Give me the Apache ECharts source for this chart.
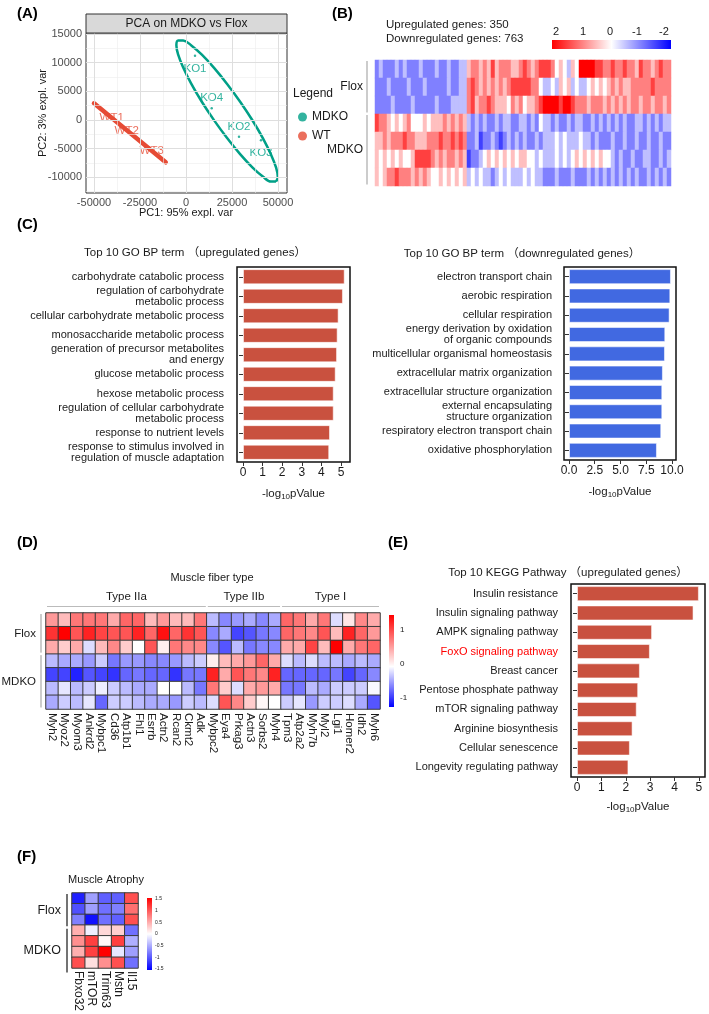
<!DOCTYPE html>
<html>
<head>
<meta charset="utf-8">
<script src="https://cdn.jsdelivr.net/npm/echarts@6/dist/echarts.min.js"></script>
<style>
  html, body { margin: 0; padding: 0; background: #fff; }
  #main { width: 709px; height: 1014px; }
</style>
</head>
<body>
<div id="main"></div>
<script>
const FONT = '"Liberation Sans", Arial, "Noto Sans CJK SC", sans-serif';

// (A) PCA
const pcaKoNames = ['KO1', 'KO4', 'KO2', 'KO3'];
const pcaKoPoints = [[4890, 11220], [13970, 2040], [28800, -2910], [40760, -3540]];
const pcaWtNames = ['WT1', 'WT2', 'WT3'];
const pcaWtPoints = [[-40380, 300], [-32230, -1870], [-18640, -5360]];
// ellipse outline
const koEllipse = [[48900, -10750], [49890, -9930], [48970, -8310], [46190, -6030], [41830, -3205],
  [36170, -90], [29520, 3150], [22330, 6290], [15250, 9090], [8610, 11390], [2890, 13010],
  [-1530, 13870], [-4250, 13880], [-5230, 13050], [-4300, 11440], [-1530, 9160], [2830, 6340],
  [8500, 3220], [15200, -20], [22330, -3150], [29410, -5960], [36060, -8260], [41780, -9880],
  [46190, -10750], [48900, -10750]];
const wtEllipse = [[-50000, 2910], [-11030, -7380]];
const pcaXTicks = [-50000, -25000, 0, 25000, 50000];
const pcaYTicks = [-10000, -5000, 0, 5000, 10000, 15000];
const pcaXMinor = [-37500, -12500, 12500, 37500];
const pcaYMinor = [-12500, -7500, -2500, 2500, 7500, 12500];

// (B) DEG heatmap, one digit per column block: value = (digit - 4) / 2
const upCount = 350, downCount = 763;
const bRowNames = ['Flox1', 'Flox2', 'Flox3', 'MDKO1', 'MDKO2', 'MDKO3', 'MDKO4'];
const bRows = [
  '23222 32322 23222 32232 233 | 56656 57566 65567 65677 76454 35488 88776 67667 66576 65676 6',
  '22232 22232 22322 22232 233 | 67656 56565 67777 76643 34354 53433 45454 56565 56666 67666 6',
  '22223 22223 22222 32223 333 | 67566 76555 46564 55678 88878 87666 56665 65656 56656 65665 6',
  '76654 54564 44545 55656 565 | 32323 22323 32233 23243 32322 32332 23232 32323 22332 32323 3',
  '55656 66766 55566 67667 676 | 22312 23212 32323 22323 33434 33343 32322 23223 22322 32232 2',
  '54545 45445 77776 56566 565 | 12234 54545 45455 44343 33434 34545 45454 43232 23223 32232 3',
  '54566 76665 65654 45454 545 | 34343 32343 43334 34332 22322 23222 32323 23232 32322 32323 2'
];
const bScaleTicks = [2, 1, 0, -1, -2];
const sampleGroups = [['Flox', 3], ['MDKO', 4]];

// (C) GO BP
const goUpTerms = ['carbohydrate catabolic process', 'regulation of carbohydrate\nmetabolic process',
  'cellular carbohydrate metabolic process', 'monosaccharide metabolic process',
  'generation of precursor metabolites\nand energy', 'glucose metabolic process', 'hexose metabolic process',
  'regulation of cellular carbohydrate\nmetabolic process', 'response to nutrient levels',
  'response to stimulus involved in\nregulation of muscle adaptation'];
const goUpValues = [5.19, 5.10, 4.88, 4.83, 4.80, 4.73, 4.63, 4.63, 4.44, 4.40];
const goDownTerms = ['electron transport chain', 'aerobic respiration', 'cellular respiration',
  'energy derivation by oxidation\nof organic compounds', 'multicellular organismal homeostasis',
  'extracellular matrix organization', 'extracellular structure organization',
  'external encapsulating\nstructure organization', 'respiratory electron transport chain',
  'oxidative phosphorylation'];
const goDownValues = [9.90, 9.84, 9.77, 9.35, 9.32, 9.12, 9.06, 9.06, 8.96, 8.54];
const goUpTicks = [0, 1, 2, 3, 4, 5];
const goDownTicks = [0, 2.5, 5, 7.5, 10];

// (D) muscle fiber type
const fiberGenes = ['Myh2', 'Myoz2', 'Myom3', 'Ankrd2', 'Mybpc1', 'Cd36', 'Atp1b1', 'Fhl1', 'Esrrb', 'Actn2',
  'Rcan2', 'Ckmt2', 'Adk', 'Mybpc2', 'Eya4', 'Prkag3', 'Actn3', 'Sorbs2', 'Myh4', 'Tpm3', 'Atp2a2',
  'Myh7b', 'Myl2', 'Lgi1', 'Homer2', 'Idh2', 'Myh6'];
const fiberGroups = ['Type IIa', 'Type IIb', 'Type I'];
const fiberGroupSizes = [13, 6, 8];
const fiberRows = [
  [0.6, 0.4, 0.8, 0.8, 0.8, 0.5, 0.9, 0.9, 0.4, 0.6, 0.4, 0.4, 0.8, -0.4, -0.7, -0.6, -0.5, -0.7, -0.5, 0.9, 0.8, 0.5, 0.8, -0.2, 0.15, 0.7, 0.5],
  [1.2, 1.5, 1.0, 1.3, 1.1, 1.0, 1.0, 1.3, 0.9, 1.4, 0.9, 1.2, 1.0, -0.7, -0.5, -1.1, -1.0, -0.8, -0.7, 0.9, 0.8, 0.7, 1.0, 0.4, 1.3, 0.9, 0.6],
  [0.5, 0.3, 0.5, -0.2, 0.4, 0.7, 0.3, 0.0, 1.0, 0.1, 0.8, 0.7, 0.7, -0.7, -1.0, -0.4, -0.8, -0.7, -0.7, 0.5, 0.5, 1.1, 0.4, 1.6, 0.5, 0.8, 0.9],
  [-0.4, -0.5, -0.5, -0.6, -0.3, -0.8, -0.6, -0.6, -0.7, -0.7, -0.6, -0.4, -0.3, 0.1, 0.4, 0.5, 0.6, 0.9, 0.5, -0.2, -0.4, -0.2, -0.4, -0.4, -0.5, -0.4, -0.5],
  [-1.1, -1.1, -1.3, -1.0, -1.1, -1.2, -0.9, -0.8, -0.9, -0.9, -1.2, -0.8, -0.8, 1.3, 0.5, 1.0, 0.8, 0.7, 1.3, -0.9, -0.9, -0.9, -0.9, -0.8, -1.1, -0.9, -0.7],
  [-0.4, -0.15, -0.4, -0.3, -0.1, -0.3, -0.4, -0.5, -0.5, 0.0, 0.0, -0.4, -0.8, 0.8, 0.3, -0.2, 0.5, 0.6, 0.5, -0.8, -0.8, -0.4, -0.5, -0.3, -0.3, -0.3, -0.05],
  [-0.5, -0.3, -0.4, -0.15, -0.9, -0.3, -0.3, -0.4, -0.5, -0.5, -0.6, -0.3, -0.4, -0.2, 1.0, 0.7, 0.3, 0.05, 0.0, -0.3, -0.15, -0.6, -0.3, -0.3, -0.2, -0.5, -1.0]
];
const fiberScaleTicks = [1, 0, -1];

// (E) KEGG
const keggTerms = ['Insulin resistance', 'Insulin signaling pathway', 'AMPK signaling pathway',
  'FoxO signaling pathway', 'Breast cancer', 'Pentose phosphate pathway', 'mTOR signaling pathway',
  'Arginine biosynthesis', 'Cellular senescence', 'Longevity regulating pathway'];
const keggValues = [5.00, 4.78, 3.08, 2.99, 2.58, 2.51, 2.45, 2.28, 2.17, 2.11];
const keggTicks = [0, 1, 2, 3, 4, 5];
const keggHighlight = 'FoxO signaling pathway';

// (F) muscle atrophy
const atrophyGenes = ['Fbxo32', 'mTOR', 'Trim63', 'Mstn', 'Il15'];
const atrophyRows = [
  [-1.4, -0.6, -1.0, -1.0, 1.1],
  [-1.1, -0.6, -0.9, -0.8, 0.9],
  [-0.8, -1.5, -0.9, -1.0, 1.1],
  [0.5, -0.1, 0.25, 0.3, -0.9],
  [0.7, 1.2, 0.05, 1.2, -0.5],
  [0.5, 1.2, 1.6, -0.15, -0.6],
  [1.1, 0.2, 0.7, 1.1, -0.9]
];
const atrophyScaleTicks = [1.5, 1, 0.5, 0, -0.5, -1, -1.5];

// ---------- helpers
const toCells = rows => {
  const out = [];
  rows.forEach((r, y) => r.forEach((v, x) => out.push([x, y, v])));
  return out;
};
const bDigits = bRows.map(s => s.replace(/[^0-8]/g, '').split(''));
const bData = [];
bDigits.forEach((r, y) => r.forEach((c, x) => bData.push([x, y, (Number(c) - 4) / 2])));
const bCols = bDigits[0].map((_, i) => String(i));

const g = [];
function text(x, y, s, o = {}) {
  g.push({
    type: 'text', x, y, rotation: o.rot || 0, silent: true, z: 50,
    style: {
      text: s, fill: o.color || '#1a1a1a', fontSize: o.size || 11, fontWeight: o.bold ? 'bold' : 'normal',
      fontFamily: FONT, align: o.align || 'center', textAlign: o.align || 'center',
      verticalAlign: 'middle', textVerticalAlign: 'middle'
    }
  });
}
function line(x1, y1, x2, y2, color, w) {
  g.push({ type: 'line', silent: true, z: 50, shape: { x1, y1, x2, y2 }, style: { stroke: color, lineWidth: w } });
}
function colorBar(x, y, w, h, vertical, stops) {
  g.push({
    type: 'rect', silent: true, z: 50, shape: { x, y, width: w, height: h },
    style: { fill: new echarts.graphic.LinearGradient(0, 0, vertical ? 0 : 1, vertical ? 1 : 0, stops) }
  });
}
function sampleBrackets(top, height, textRight, barX, size, barColor, barW) {
  const total = sampleGroups.reduce((a, s) => a + s[1], 0);
  const rh = height / total;
  let r = 0;
  sampleGroups.forEach(([name, n]) => {
    const y0 = top + r * rh, y1 = top + (r + n) * rh;
    text(textRight, (y0 + y1) / 2, name, { size, align: 'right' });
    line(barX, y0 + 1, barX, y1 - 1.5, barColor, barW);
    r += n;
  });
}
const redWhiteBlue = [{ offset: 0, color: '#ff0000' }, { offset: 0.5, color: '#ffffff' }, { offset: 1, color: '#0000ff' }];

// ---------- layout
const GA = { left: 86, top: 33, width: 201, height: 160 };
const GB = { left: 375, top: 60, width: 296, height: 126 };
const GC1 = { left: 237, top: 267, width: 113, height: 195 };
const GC2 = { left: 564, top: 267, width: 112, height: 193 };
const GD = { left: 46, top: 613, width: 334, height: 96 };
const GE = { left: 571, top: 584, width: 134, height: 193 };
const GF = { left: 72, top: 893, width: 66, height: 81 };

// panel letters
[['(A)', 17, 14], ['(B)', 332, 14], ['(C)', 17, 225], ['(D)', 17, 543], ['(E)', 388, 543], ['(F)', 17, 857]]
  .forEach(([s, x, y]) => text(x, y, s, { size: 15, bold: true, align: 'left', color: '#000' }));

// A decorations
g.push({ type: 'rect', silent: true, z: 40, shape: { x: 86, y: 14, width: 201, height: 19 },
  style: { fill: '#d9d9d9', stroke: '#333', lineWidth: 1 } });
text(186.5, 24, 'PCA on MDKO vs Flox', { size: 12 });
text(186, 213, 'PC1: 95% expl. var', { size: 11 });
text(43, 113, 'PC2: 3% expl. var', { size: 11, rot: Math.PI / 2 });
text(293, 94, 'Legend', { size: 12, align: 'left' });

// B decorations
text(386, 25, 'Upregulated genes: ' + upCount, { size: 11.5, align: 'left' });
text(386, 39, 'Downregulated genes: ' + downCount, { size: 11.5, align: 'left' });
colorBar(552, 40, 119, 9, false, redWhiteBlue);
bScaleTicks.forEach(v => text(610 - v * 27, 32, String(v), { size: 11 }));
sampleBrackets(GB.top, GB.height, 363, 367, 12, '#999', 1);

// C titles
text(195, 253, 'Top 10 GO BP term （upregulated genes）', { size: 11.5 });
text(522, 254, 'Top 10 GO BP term （downregulated genes）', { size: 11.5 });

// D decorations
text(212, 578, 'Muscle fiber type', { size: 11 });
{
  const cw = GD.width / fiberGenes.length;
  let s = 0;
  fiberGroups.forEach((name, i) => {
    const n = fiberGroupSizes[i];
    text(GD.left + (s + n / 2) * cw, 597, name, { size: 11.5 });
    line(GD.left + s * cw + 1, 606.5, GD.left + (s + n) * cw - 1, 606.5, '#bbb', 1);
    s += n;
  });
}
sampleBrackets(GD.top, GD.height, 36, 41, 11.5, '#999', 1);
colorBar(389, 615, 5, 92, true, [{ offset: 0, color: '#ff0000' }, { offset: 0.56, color: '#ffffff' }, { offset: 1, color: '#0000ff' }]);
fiberScaleTicks.forEach(v => text(400, 664 - v * 34, String(v), { size: 8, align: 'left' }));

// E title
text(568, 573, 'Top 10 KEGG Pathway （upregulated genes）', { size: 11.5 });

// F decorations
text(106, 880, 'Muscle Atrophy', { size: 11 });
sampleBrackets(GF.top, GF.height, 61, 67, 12.5, '#444', 1.5);
colorBar(147, 898, 5, 72, true, redWhiteBlue);
atrophyScaleTicks.forEach(v => text(155, 934 - v * 23.3, String(v), { size: 5, align: 'left' }));

// ---------- axes
const nameRich = {
  fontSize: 11.5, color: '#1a1a1a', fontFamily: FONT,
  rich: { s: { fontSize: 8, color: '#1a1a1a', fontFamily: FONT, padding: [7, 0, 0, 0] } }
};
function valueBarAxis(gi, min, max, ticks, fmt, gap) {
  return {
    gridIndex: gi, type: 'value', min, max,
    splitLine: { show: false }, axisLine: { show: false },
    axisTick: { show: true, length: 4, customValues: ticks, lineStyle: { color: '#333' } },
    axisLabel: { customValues: ticks, formatter: fmt, fontSize: 12, color: '#1a1a1a', margin: 5 },
    name: '-log{s|10}pValue', nameLocation: 'middle', nameGap: gap, nameTextStyle: nameRich
  };
}
function termAxis(gi, terms, margin, colorFn) {
  return {
    gridIndex: gi, type: 'category', data: terms, inverse: true,
    axisLine: { show: false },
    axisTick: { show: true, alignWithLabel: true, length: 4, lineStyle: { color: '#333' } },
    axisLabel: { interval: 0, fontSize: 11, lineHeight: 11, color: colorFn || '#1a1a1a', margin }
  };
}
function heatAxisX(gi, cats, fontSize, margin) {
  return {
    gridIndex: gi, type: 'category', data: cats, axisLine: { show: false }, axisTick: { show: false },
    splitLine: { show: false },
    axisLabel: { interval: 0, rotate: -90, fontSize, color: '#1a1a1a', margin }
  };
}
const hiddenCat = (gi, cats, inverse) => ({ gridIndex: gi, type: 'category', data: cats, inverse, show: false });

const frame = { show: true, borderColor: '#111', borderWidth: 1.5 };

const xAxis = [
  {
    gridIndex: 0, type: 'value', min: -54348, max: 54891, splitLine: { show: false }, axisLine: { show: false },
    axisTick: { customValues: pcaXTicks, length: 3, lineStyle: { color: '#333' } },
    axisLabel: { customValues: pcaXTicks, formatter: v => String(v), fontSize: 11, color: '#4d4d4d', margin: 4 }
  },
  hiddenCat(1, bCols, false),
  valueBarAxis(2, -0.306, 5.46, goUpTicks, v => String(v), 24),
  valueBarAxis(3, -0.485, 10.39, goDownTicks, v => Number(v).toFixed(1), 24),
  heatAxisX(4, fiberGenes, 11.5, 4),
  valueBarAxis(5, -0.246, 5.25, keggTicks, v => String(v), 22),
  heatAxisX(6, atrophyGenes, 12, 3)
];
const yAxis = [
  {
    gridIndex: 0, type: 'value', min: -12740, max: 15175, splitLine: { show: false }, axisLine: { show: false },
    axisTick: { customValues: pcaYTicks, length: 3, lineStyle: { color: '#333' } },
    axisLabel: { customValues: pcaYTicks, formatter: v => String(v), fontSize: 11, color: '#4d4d4d', margin: 4 }
  },
  hiddenCat(1, bRowNames, true),
  termAxis(2, goUpTerms, 13),
  termAxis(3, goDownTerms, 12),
  hiddenCat(4, bRowNames, true),
  termAxis(5, keggTerms, 13, v => (v === keggHighlight ? '#ff0000' : '#1a1a1a')),
  hiddenCat(6, bRowNames, true)
];

// A grid lines as mark lines
const gl = (key, v, major) => ({
  [key]: v, lineStyle: { type: 'solid', color: major ? '#dedede' : '#ececec', width: major ? 1 : 0.6 }
});
const gridLines = [
  ...pcaXMinor.map(v => gl('xAxis', v, false)), ...pcaYMinor.map(v => gl('yAxis', v, false)),
  ...pcaXTicks.map(v => gl('xAxis', v, true)), ...pcaYTicks.map(v => gl('yAxis', v, true))
];

const TEAL = '#00a087', RED = '#e64b35';
const heatCommon = { emphasis: { disabled: true }, silent: true, progressive: 0 };

const option = {
  animation: false,
  textStyle: { fontFamily: FONT },
  grid: [
    Object.assign({}, GA, { show: true, borderColor: '#333', borderWidth: 1 }),
    GB,
    Object.assign({}, GC1, frame),
    Object.assign({}, GC2, frame),
    GD,
    Object.assign({}, GE, frame),
    GF
  ],
  legend: {
    left: 293, top: 106, orient: 'vertical', icon: 'circle', itemWidth: 9, itemHeight: 9, itemGap: 7,
    selectedMode: false, data: ['MDKO', 'WT'], textStyle: { fontSize: 12, color: '#1a1a1a', fontFamily: FONT }
  },
  xAxis, yAxis,
  visualMap: [
    { show: false, seriesIndex: 5, min: -2, max: 2, inRange: { color: ['#0000ff', '#ffffff', '#ff0000'] } },
    { show: false, seriesIndex: 8, min: -1.5, max: 1.5, inRange: { color: ['#0000ff', '#ffffff', '#ff0000'] } },
    { show: false, seriesIndex: 10, min: -1.6, max: 1.6, inRange: { color: ['#0000ff', '#ffffff', '#ff0000'] } }
  ],
  series: [
    {
      type: 'scatter', name: 'grid', xAxisIndex: 0, yAxisIndex: 0, z: 1, silent: true,
      data: [[0, 0]], symbolSize: 0,
      markLine: { silent: true, symbol: 'none', animation: false, label: { show: false }, data: gridLines }
    },
    {
      type: 'line', name: 'MDKO ellipse', xAxisIndex: 0, yAxisIndex: 0, z: 3, data: koEllipse,
      smooth: 0.4, showSymbol: false, silent: true, lineStyle: { color: TEAL, width: 2.5 }
    },
    {
      type: 'line', name: 'WT ellipse', xAxisIndex: 0, yAxisIndex: 0, z: 3, data: wtEllipse,
      showSymbol: false, silent: true, lineStyle: { color: RED, width: 4.5, cap: 'round' }
    },
    {
      type: 'scatter', name: 'MDKO', xAxisIndex: 0, yAxisIndex: 0, z: 4, symbolSize: 2.5,
      itemStyle: { color: TEAL }, silent: true,
      data: pcaKoPoints.map((p, i) => ({
        value: p, name: pcaKoNames[i],
        label: { position: (i === 1 || i === 2) ? 'top' : 'bottom', distance: (i === 1 || i === 2) ? 3 : 6 }
      })),
      label: { show: true, formatter: '{b}', color: TEAL, fontSize: 11.5, fontFamily: FONT }
    },
    {
      type: 'scatter', name: 'WT', xAxisIndex: 0, yAxisIndex: 0, z: 4, symbolSize: 2.5,
      itemStyle: { color: RED }, silent: true,
      data: pcaWtPoints.map((p, i) => ({ value: p, name: pcaWtNames[i] })),
      label: { show: true, position: 'inside', formatter: '{b}', color: RED, fontSize: 11.5, fontFamily: FONT }
    },
    Object.assign({ type: 'heatmap', xAxisIndex: 1, yAxisIndex: 1, data: bData, itemStyle: { borderWidth: 0 } }, heatCommon),
    {
      type: 'bar', xAxisIndex: 2, yAxisIndex: 2, data: goUpValues, barCategoryGap: '22%', silent: true,
      itemStyle: { color: '#c9513f', borderColor: 'rgba(255,255,255,0.55)', borderWidth: 1 }
    },
    {
      type: 'bar', xAxisIndex: 3, yAxisIndex: 3, data: goDownValues, barCategoryGap: '22%', silent: true,
      itemStyle: { color: '#4169e1', borderColor: 'rgba(255,255,255,0.55)', borderWidth: 1 }
    },
    Object.assign({ type: 'heatmap', xAxisIndex: 4, yAxisIndex: 4, data: toCells(fiberRows),
      itemStyle: { borderColor: '#3a3a3a', borderWidth: 1 } }, heatCommon),
    {
      type: 'bar', xAxisIndex: 5, yAxisIndex: 5, data: keggValues, barCategoryGap: '22%', silent: true,
      itemStyle: { color: '#c9513f', borderColor: 'rgba(255,255,255,0.55)', borderWidth: 1 }
    },
    Object.assign({ type: 'heatmap', xAxisIndex: 6, yAxisIndex: 6, data: toCells(atrophyRows),
      itemStyle: { borderColor: '#3a3a3a', borderWidth: 1 } }, heatCommon)
  ],
  graphic: { elements: g }
};

const chart = echarts.init(document.getElementById('main'));
chart.setOption(option);
</script>
</body>
</html>
